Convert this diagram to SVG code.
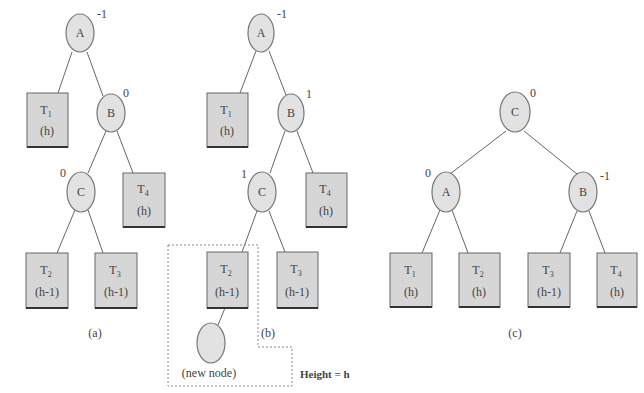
<svg xmlns="http://www.w3.org/2000/svg" width="644" height="393" viewBox="0 0 644 393">
<style>
.n{fill:#e2e2e2;stroke:#777;stroke-width:1.2}
.b{fill:#d6d6d6;stroke:#666;stroke-width:1}
.bb{stroke:#333;stroke-width:2}
.e{stroke:#666;stroke-width:1;fill:none}
.d{stroke:#888;stroke-width:1;fill:none;stroke-dasharray:2,2}
text{font-family:"Liberation Serif","DejaVu Serif",serif;font-size:12px;fill:#444;text-anchor:middle}
.s{font-size:8px}
.lb{text-anchor:start}
</style>
<rect width="644" height="393" fill="#fff"/>
<g id="connectors">
<line class="e" x1="72" y1="52" x2="58" y2="93"/>
<line class="e" x1="87" y1="52" x2="103" y2="96"/>
<line class="e" x1="106" y1="131" x2="88" y2="173"/>
<line class="e" x1="117" y1="131" x2="133" y2="173"/>
<line class="e" x1="75" y1="210" x2="57" y2="253"/>
<line class="e" x1="88" y1="210" x2="103" y2="253"/>
<line class="e" x1="256" y1="51" x2="240" y2="93"/>
<line class="e" x1="269" y1="51" x2="286" y2="95"/>
<line class="e" x1="285" y1="131" x2="270" y2="173"/>
<line class="e" x1="297" y1="131" x2="313" y2="173"/>
<line class="e" x1="257" y1="211" x2="242" y2="252"/>
<line class="e" x1="269" y1="211" x2="285" y2="252"/>
<line class="e" x1="225" y1="308" x2="218" y2="325"/>
<line class="e" x1="506" y1="131" x2="450" y2="174"/>
<line class="e" x1="524" y1="131" x2="577" y2="174"/>
<line class="e" x1="440" y1="210" x2="422" y2="253"/>
<line class="e" x1="452" y1="210" x2="468" y2="253"/>
<line class="e" x1="577" y1="211" x2="560" y2="253"/>
<line class="e" x1="589" y1="211" x2="605" y2="253"/>
<path class="d" d="M168,245 H258 V347 H292 V386 H168 Z"/>
</g>
<g id="a-A"><ellipse class="n" cx="80" cy="33" rx="14" ry="19"/><text x="80" y="37">A</text><text x="102" y="18">-1</text></g>
<g id="a-T1"><rect class="b" x="27" y="93" width="41" height="54"/><line class="bb" x1="27" y1="147" x2="68" y2="147"/><text x="46" y="114">T<tspan class="s" dy="3">1</tspan></text><text x="47" y="135">(h)</text></g>
<g id="a-B"><ellipse class="n" cx="111" cy="113" rx="14" ry="19"/><text x="111" y="117">B</text><text x="126" y="97">0</text></g>
<g id="a-C"><ellipse class="n" cx="81" cy="192" rx="14" ry="20"/><text x="81" y="196">C</text><text x="63" y="177">0</text></g>
<g id="a-T4"><rect class="b" x="123" y="173" width="42" height="54"/><line class="bb" x1="123" y1="227" x2="165" y2="227"/><text x="143" y="193">T<tspan class="s" dy="3">4</tspan></text><text x="144" y="215">(h)</text></g>
<g id="a-T2"><rect class="b" x="26" y="253" width="42" height="55"/><line class="bb" x1="26" y1="308" x2="68" y2="308"/><text x="46" y="274">T<tspan class="s" dy="3">2</tspan></text><text x="47" y="296">(h-1)</text></g>
<g id="a-T3"><rect class="b" x="95" y="253" width="42" height="55"/><line class="bb" x1="95" y1="308" x2="137" y2="308"/><text x="115" y="274">T<tspan class="s" dy="3">3</tspan></text><text x="116" y="296">(h-1)</text></g>
<text x="95" y="337">(a)</text>
<g id="b-A"><ellipse class="n" cx="261" cy="33" rx="13" ry="19"/><text x="261" y="37">A</text><text x="282" y="18">-1</text></g>
<g id="b-T1"><rect class="b" x="207" y="93" width="41" height="54"/><line class="bb" x1="207" y1="147" x2="248" y2="147"/><text x="226" y="114">T<tspan class="s" dy="3">1</tspan></text><text x="227" y="135">(h)</text></g>
<g id="b-B"><ellipse class="n" cx="291" cy="113" rx="13" ry="19"/><text x="291" y="117">B</text><text x="309" y="98">1</text></g>
<g id="b-C"><ellipse class="n" cx="262" cy="192" rx="14" ry="20"/><text x="262" y="196">C</text><text x="244" y="178">1</text></g>
<g id="b-T4"><rect class="b" x="306" y="173" width="41" height="54"/><line class="bb" x1="306" y1="227" x2="347" y2="227"/><text x="325" y="193">T<tspan class="s" dy="3">4</tspan></text><text x="326" y="215">(h)</text></g>
<g id="b-T2"><rect class="b" x="207" y="252" width="41" height="56"/><line class="bb" x1="207" y1="308" x2="248" y2="308"/><text x="226" y="273">T<tspan class="s" dy="3">2</tspan></text><text x="227" y="296">(h-1)</text></g>
<g id="b-T3"><rect class="b" x="277" y="252" width="41" height="56"/><line class="bb" x1="277" y1="308" x2="318" y2="308"/><text x="296" y="273">T<tspan class="s" dy="3">3</tspan></text><text x="297" y="296">(h-1)</text></g>
<g id="b-new"><ellipse class="n" cx="211" cy="343" rx="14" ry="20"/><text x="209" y="377">(new node)</text></g>
<text x="268" y="337">(b)</text>
<text class="lb" x="300" y="378" style="font-weight:bold;font-size:11px">Height = h</text>
<g id="c-C"><ellipse class="n" cx="515" cy="112" rx="15" ry="20"/><text x="515" y="116">C</text><text x="533" y="97">0</text></g>
<g id="c-A"><ellipse class="n" cx="446" cy="192" rx="14" ry="20"/><text x="446" y="196">A</text><text x="428" y="177">0</text></g>
<g id="c-B"><ellipse class="n" cx="583" cy="192" rx="14" ry="20"/><text x="583" y="196">B</text><text x="605" y="180">-1</text></g>
<g id="c-T1"><rect class="b" x="390" y="253" width="42" height="54"/><line class="bb" x1="390" y1="307" x2="432" y2="307"/><text x="410" y="274">T<tspan class="s" dy="3">1</tspan></text><text x="411" y="296">(h)</text></g>
<g id="c-T2"><rect class="b" x="459" y="253" width="41" height="54"/><line class="bb" x1="459" y1="307" x2="500" y2="307"/><text x="478" y="274">T<tspan class="s" dy="3">2</tspan></text><text x="479" y="296">(h)</text></g>
<g id="c-T3"><rect class="b" x="528" y="253" width="42" height="54"/><line class="bb" x1="528" y1="307" x2="570" y2="307"/><text x="548" y="274">T<tspan class="s" dy="3">3</tspan></text><text x="549" y="296">(h-1)</text></g>
<g id="c-T4"><rect class="b" x="597" y="253" width="40" height="54"/><line class="bb" x1="597" y1="307" x2="637" y2="307"/><text x="616" y="274">T<tspan class="s" dy="3">4</tspan></text><text x="617" y="296">(h)</text></g>
<text x="515" y="337">(c)</text>
</svg>
